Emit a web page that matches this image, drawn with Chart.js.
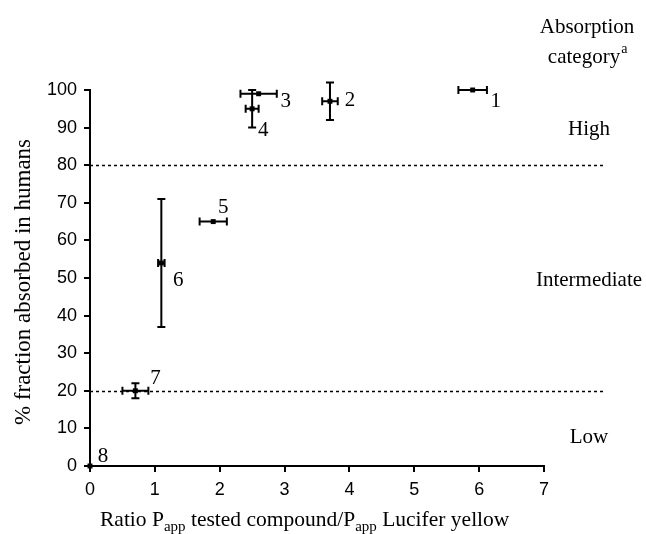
<!DOCTYPE html>
<html>
<head>
<meta charset="utf-8">
<script src="https://cdn.jsdelivr.net/npm/chart.js@4"></script>
<style>
  body { margin: 0; background: #fff; }
  #wrap { width: 646px; height: 534px; position: relative; }
</style>
</head>
<body>
<div id="wrap"><canvas id="myChart"></canvas></div>
<script>
// compound numbers and measured values
const compounds = ["1", "2", "3", "4", "5", "6", "7", "8"];
const ratio = [5.9, 3.7, 2.6, 2.5, 1.9, 1.1, 0.7, 0];
const ratioErr = [0.22, 0.12, 0.28, 0.1, 0.21, 0.05, 0.2, 0];
const absorbed = [100, 97, 99, 95, 65, 54, 20, 0];
const absorbedErr = [0, 5, 0, 5, 0, 17, 2, 0];

// category borders and names
const borders = [80, 20];
const categories = ["High", "Intermediate", "Low"];
const categoryAt = [90, 50, 8];

const serif = "'Liberation Serif', 'Times New Roman', serif";
const sans = "'Liberation Sans', Arial, sans-serif";

// where the number sits next to each point (px)
const labelOffset = [[23, 11], [20, -1], [27, 8], [11, 22], [10, -14], [17, 18], [20, -12], [13, -10]];

const points = ratio.map((x, i) => ({ x: x, y: absorbed[i] }));

const errorBars = {
  id: "errorBars",
  beforeDatasetsDraw(chart) {
    const c = chart.ctx;
    const xs = chart.scales.x, ys = chart.scales.y;
    c.save();
    // dotted category borders
    c.strokeStyle = "#000";
    c.lineWidth = 1.5;
    c.setLineDash([3, 3]);
    borders.forEach((b) => {
      const py = Math.round(ys.getPixelForValue(b)) + 0.5;
      c.beginPath();
      c.moveTo(xs.left, py);
      c.lineTo(603, py);
      c.stroke();
    });
    c.setLineDash([]);
    c.lineWidth = 2;
    const cap = 4;
    ratio.forEach((x, i) => {
      const px = xs.getPixelForValue(x);
      const py = ys.getPixelForValue(absorbed[i]);
      if (ratioErr[i] > 0) {
        const x1 = xs.getPixelForValue(x - ratioErr[i]);
        const x2 = xs.getPixelForValue(x + ratioErr[i]);
        c.beginPath();
        c.moveTo(x1, py); c.lineTo(x2, py);
        c.moveTo(x1, py - cap); c.lineTo(x1, py + cap);
        c.moveTo(x2, py - cap); c.lineTo(x2, py + cap);
        c.stroke();
      }
      if (absorbedErr[i] > 0) {
        const y1 = ys.getPixelForValue(absorbed[i] - absorbedErr[i]);
        const y2 = ys.getPixelForValue(absorbed[i] + absorbedErr[i]);
        c.beginPath();
        c.moveTo(px, y1); c.lineTo(px, y2);
        c.moveTo(px - cap, y1); c.lineTo(px + cap, y1);
        c.moveTo(px - cap, y2); c.lineTo(px + cap, y2);
        c.stroke();
      }
    });
    c.restore();
  },
  afterDraw(chart) {
    const c = chart.ctx;
    const xs = chart.scales.x, ys = chart.scales.y;
    c.save();
    c.fillStyle = "#000";
    c.textAlign = "center";
    c.textBaseline = "middle";
    c.font = "21px " + serif;
    compounds.forEach((t, i) => {
      const px = xs.getPixelForValue(ratio[i]);
      const py = ys.getPixelForValue(absorbed[i]);
      c.fillText(t, px + labelOffset[i][0], py + labelOffset[i][1]);
    });

    // right-hand category notes
    const cx = 587;
    c.fillText("Absorption", cx, 27);
    const w = c.measureText("category").width;
    c.fillText("category", cx - 3, 57);
    c.font = "14px " + serif;
    c.textAlign = "left";
    c.fillText("a", cx - 3 + w / 2 + 1, 49);
    c.font = "21px " + serif;
    c.textAlign = "center";
    categories.forEach((t, i) => {
      c.fillText(t, cx + 2, ys.getPixelForValue(categoryAt[i]) + 2);
    });

    // y axis title
    c.save();
    c.font = "23px " + serif;
    c.translate(24, (ys.top + ys.bottom) / 2 + 4);
    c.rotate(-Math.PI / 2);
    c.fillText("% fraction absorbed in humans", 0, 0);
    c.restore();

    // x axis title with subscripts
    const parts = [["Ratio P", 0], ["app", 1], [" tested compound/P", 0], ["app", 1], [" Lucifer yellow", 0]];
    c.textAlign = "left";
    c.textBaseline = "alphabetic";
    let tx = 100;
    const base = 526;
    parts.forEach((p) => {
      c.font = (p[1] ? "15px " : "21.5px ") + serif;
      c.fillText(p[0], tx, base + (p[1] ? 5 : 0));
      tx += c.measureText(p[0]).width;
    });
    c.restore();
  },
};

const ctx = document.getElementById("myChart");

const chart = new Chart(ctx, {
  type: "scatter",
  data: {
    datasets: [
      {
        label: "compounds",
        data: points,
        pointStyle: "rect",
        pointRadius: 3.5,
        backgroundColor: "#000",
        borderColor: "#000",
        borderWidth: 0,
        clip: false,
      },
    ],
  },
  options: {
    responsive: true,
    maintainAspectRatio: false,
    animation: false,
    layout: { padding: { top: 90, right: 102, left: 0, bottom: 0 } },
    plugins: { legend: { display: false }, tooltip: { enabled: false } },
    scales: {
      x: {
        type: "linear",
        min: 0,
        max: 7,
        afterFit(s) { s.height = 68; },
        ticks: { stepSize: 1, color: "#000", padding: 7, font: { family: sans, size: 18 } },
        grid: { drawOnChartArea: false, drawTicks: true, tickLength: 6, color: "#000", lineWidth: 2 },
        border: { display: true, color: "#000", width: 2 },
      },
      y: {
        min: 0,
        max: 100,
        afterFit(s) { s.width = 90; },
        ticks: { stepSize: 10, color: "#000", padding: 7, font: { family: sans, size: 18 } },
        grid: { drawOnChartArea: false, drawTicks: true, tickLength: 6, color: "#000", lineWidth: 2 },
        border: { display: true, color: "#000", width: 2 },
      },
    },
  },
  plugins: [errorBars],
});
</script>
</body>
</html>
